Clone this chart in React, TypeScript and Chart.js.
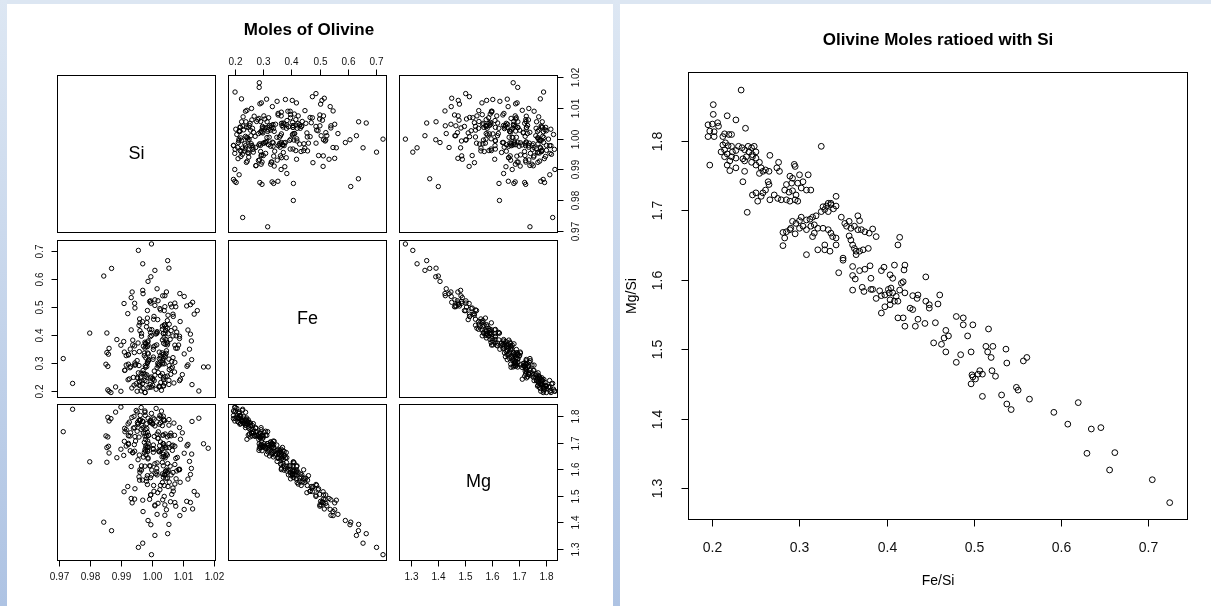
import React, { useEffect, useRef } from "react";
import { Chart, registerables } from "chart.js";

Chart.register(...registerables);

// Ratios (Fe/Si, Mg/Si), one entry per sample
const feSi: number[] = [
  0.233, 0.201, 0.201, 0.217, 0.227, 0.195, 0.200, 0.206, 0.207, 0.197,
  0.202, 0.195, 0.202, 0.212, 0.214, 0.219, 0.222, 0.238, 0.212, 0.215,
  0.218, 0.222, 0.214, 0.210, 0.217, 0.223, 0.227, 0.230, 0.234, 0.237,
  0.241, 0.245, 0.248, 0.242, 0.246, 0.250, 0.246, 0.239, 0.235, 0.227,
  0.222, 0.214, 0.266, 0.325, 0.250, 0.197, 0.220, 0.254, 0.217, 0.220,
  0.227, 0.237, 0.245, 0.250, 0.256, 0.258, 0.254, 0.261, 0.265, 0.237,
  0.235, 0.276, 0.274, 0.277, 0.294, 0.295, 0.289, 0.292, 0.300, 0.310,
  0.304, 0.298, 0.291, 0.285, 0.283, 0.288, 0.292, 0.296, 0.302, 0.308,
  0.313, 0.264, 0.265, 0.261, 0.258, 0.250, 0.246, 0.256, 0.271, 0.275,
  0.279, 0.285, 0.289, 0.295, 0.298, 0.342, 0.333, 0.336, 0.252, 0.266,
  0.336, 0.331, 0.327, 0.329, 0.333, 0.339, 0.342, 0.325, 0.319, 0.315,
  0.312, 0.308, 0.302, 0.300, 0.304, 0.296, 0.292, 0.290, 0.289, 0.285,
  0.281, 0.283, 0.281, 0.295, 0.300, 0.308, 0.313, 0.317, 0.321, 0.327,
  0.333, 0.336, 0.338, 0.342, 0.342, 0.329, 0.321, 0.329, 0.335, 0.308,
  0.350, 0.352, 0.354, 0.357, 0.359, 0.363, 0.367, 0.369, 0.367, 0.371,
  0.375, 0.380, 0.384, 0.388, 0.357, 0.359, 0.361, 0.363, 0.365, 0.365,
  0.369, 0.373, 0.379, 0.415, 0.413, 0.317, 0.315, 0.348, 0.240, 0.350,
  0.345, 0.361, 0.369, 0.375, 0.381, 0.394, 0.397, 0.409, 0.421, 0.420,
  0.404, 0.407, 0.361, 0.364, 0.382, 0.361, 0.372, 0.374, 0.382, 0.384,
  0.392, 0.388, 0.394, 0.398, 0.402, 0.405, 0.403, 0.407, 0.411, 0.415,
  0.421, 0.417, 0.419, 0.409, 0.413, 0.404, 0.404, 0.398, 0.394, 0.430,
  0.435, 0.436, 0.427, 0.430, 0.445, 0.445, 0.449, 0.449, 0.459, 0.461,
  0.413, 0.419, 0.436, 0.480, 0.488, 0.421, 0.433, 0.444, 0.456, 0.468,
  0.471, 0.466, 0.463, 0.454, 0.468, 0.485, 0.480, 0.488, 0.499, 0.493,
  0.497, 0.517, 0.514, 0.516, 0.522, 0.520, 0.537, 0.538, 0.557, 0.561,
  0.498, 0.499, 0.507, 0.505, 0.510, 0.521, 0.525, 0.502, 0.497, 0.510,
  0.532, 0.538, 0.543, 0.549, 0.551, 0.564, 0.592, 0.620, 0.608, 0.635,
  0.646, 0.630, 0.662, 0.656, 0.705, 0.725,
];

const mgSi: number[] = [
  1.873, 1.852, 1.838, 1.836, 1.830, 1.823, 1.824, 1.826, 1.821, 1.814,
  1.813, 1.806, 1.806, 1.806, 1.810, 1.809, 1.809, 1.818, 1.794, 1.797,
  1.793, 1.792, 1.787, 1.784, 1.781, 1.784, 1.786, 1.792, 1.790, 1.787,
  1.792, 1.790, 1.792, 1.784, 1.780, 1.784, 1.777, 1.777, 1.774, 1.775,
  1.777, 1.777, 1.779, 1.792, 1.775, 1.765, 1.771, 1.769, 1.765, 1.757,
  1.761, 1.771, 1.769, 1.765, 1.761, 1.756, 1.753, 1.758, 1.756, 1.756,
  1.741, 1.769, 1.761, 1.756, 1.766, 1.763, 1.749, 1.746, 1.751, 1.751,
  1.741, 1.739, 1.739, 1.737, 1.729, 1.726, 1.728, 1.722, 1.732, 1.729,
  1.729, 1.741, 1.737, 1.729, 1.725, 1.725, 1.722, 1.720, 1.722, 1.717,
  1.715, 1.715, 1.713, 1.715, 1.713, 1.720, 1.710, 1.710, 1.713, 1.715,
  1.708, 1.706, 1.705, 1.701, 1.698, 1.702, 1.706, 1.698, 1.692, 1.690,
  1.687, 1.686, 1.690, 1.685, 1.677, 1.681, 1.684, 1.674, 1.672, 1.669,
  1.668, 1.660, 1.649, 1.666, 1.674, 1.672, 1.677, 1.679, 1.674, 1.674,
  1.672, 1.667, 1.662, 1.660, 1.650, 1.650, 1.643, 1.643, 1.641, 1.636,
  1.631, 1.681, 1.677, 1.684, 1.674, 1.677, 1.692, 1.685, 1.672, 1.672,
  1.669, 1.667, 1.673, 1.662, 1.663, 1.657, 1.650, 1.645, 1.641, 1.636,
  1.641, 1.643, 1.645, 1.661, 1.650, 1.667, 1.662, 1.690, 1.697, 1.628,
  1.610, 1.619, 1.613, 1.615, 1.620, 1.613, 1.618, 1.621, 1.621, 1.614,
  1.607, 1.602, 1.606, 1.601, 1.602, 1.585, 1.589, 1.583, 1.586, 1.586,
  1.584, 1.573, 1.577, 1.578, 1.586, 1.588, 1.581, 1.581, 1.576, 1.585,
  1.581, 1.595, 1.597, 1.569, 1.569, 1.571, 1.564, 1.561, 1.552, 1.577,
  1.573, 1.578, 1.559, 1.557, 1.604, 1.569, 1.564, 1.559, 1.565, 1.578,
  1.545, 1.545, 1.543, 1.547, 1.545, 1.533, 1.533, 1.537, 1.538, 1.527,
  1.519, 1.516, 1.507, 1.509, 1.496, 1.492, 1.481, 1.535, 1.535, 1.519,
  1.496, 1.529, 1.504, 1.496, 1.504, 1.488, 1.500, 1.480, 1.483, 1.488,
  1.463, 1.460, 1.469, 1.464, 1.464, 1.469, 1.461, 1.457, 1.450, 1.432,
  1.434, 1.421, 1.413, 1.445, 1.441, 1.428, 1.409, 1.423, 1.392, 1.385,
  1.387, 1.350, 1.351, 1.326, 1.312, 1.279,
];

// Moles of Si per sample (estimated from the Si panels of the matrix)
const si: number[] = [
  0.9745, 0.9900, 0.9965, 0.9883, 0.9949, 0.9977, 0.9952, 1.0013, 0.9858, 0.9868,
  1.0030, 0.9978, 0.9862, 0.9935, 0.9998, 0.9962, 0.9942, 0.9977, 0.9987, 1.0025,
  1.0036, 0.9958, 1.0022, 0.9971, 1.0037, 0.9994, 0.9969, 1.0028, 0.9960, 1.0007,
  1.0003, 0.9927, 0.9963, 0.9923, 0.9995, 0.9953, 0.9954, 1.0037, 0.9983, 1.0040,
  1.0054, 0.9993, 0.9956, 0.9715, 0.9997, 1.0150, 1.0002, 1.0027, 1.0023, 1.0128,
  1.0070, 0.9967, 1.0002, 0.9940, 1.0009, 0.9983, 0.9978, 1.0033, 0.9965, 1.0054,
  1.0088, 0.9912, 0.9971, 0.9913, 0.9944, 0.9917, 0.9931, 0.9858, 0.9852, 0.9952,
  0.9985, 0.9924, 0.9978, 0.9929, 1.0016, 0.9983, 0.9958, 1.0034, 0.9945, 0.9988,
  0.9989, 0.9972, 1.0020, 0.9977, 1.0060, 1.0042, 1.0036, 1.0097, 1.0007, 1.0055,
  1.0061, 0.9979, 1.0020, 0.9947, 1.0018, 0.9911, 0.9924, 0.9860, 1.0049, 1.0072,
  0.9986, 0.9924, 0.9975, 0.9917, 0.9988, 0.9943, 0.9855, 1.0027, 0.9980, 1.0036,
  1.0054, 0.9988, 1.0035, 0.9985, 1.0063, 1.0039, 1.0024, 1.0115, 1.0055, 1.0112,
  1.0165, 1.0065, 1.0180, 1.0021, 1.0073, 1.0034, 1.0003, 1.0067, 1.0004, 1.0042,
  1.0045, 0.9975, 1.0023, 0.9959, 1.0046, 1.0036, 1.0042, 1.0103, 1.0032, 1.0127,
  1.0081, 0.9930, 0.9977, 0.9862, 0.9985, 0.9944, 0.9900, 0.9980, 0.9938, 0.9979,
  0.9986, 0.9909, 0.9938, 0.9887, 1.0004, 0.9980, 0.9972, 1.0049, 0.9987, 1.0042,
  1.0037, 0.9955, 0.9987, 0.9800, 0.9855, 1.0028, 1.0023, 1.0004, 1.0091, 1.0076,
  1.0120, 1.0009, 1.0050, 0.9977, 1.0033, 0.9994, 0.9966, 1.0016, 0.9933, 0.9992,
  1.0036, 0.9966, 1.0073, 1.0015, 1.0058, 1.0085, 1.0047, 1.0126, 1.0044, 1.0088,
  1.0088, 1.0038, 1.0067, 0.9998, 1.0052, 1.0015, 1.0012, 1.0079, 1.0016, 1.0043,
  1.0049, 0.9961, 0.9999, 0.9995, 1.0061, 1.0042, 1.0036, 1.0123, 1.0077, 1.0033,
  1.0040, 0.9958, 1.0044, 0.9982, 0.9961, 0.9983, 0.9969, 1.0049, 0.9960, 0.9985,
  1.0115, 1.0033, 1.0055, 0.9922, 0.9985, 1.0073, 1.0039, 1.0090, 1.0005, 1.0051,
  1.0067, 1.0006, 1.0068, 1.0018, 1.0135, 1.0039, 1.0145, 1.0027, 0.9945, 1.0025,
  1.0063, 0.9910, 0.9996, 0.9944, 0.9995, 0.9992, 0.9933, 1.0034, 0.9936, 0.9970,
  1.0111, 1.0041, 1.0059, 1.0009, 1.0073, 1.0019, 1.0009, 1.0123, 1.0076, 1.0130,
  1.0103, 1.0041, 1.0089, 0.9971, 1.0046, 1.0016, 0.9987, 0.9845, 0.9996, 1.0054,
  0.9870, 1.0009, 1.0050, 0.9970, 0.9956, 0.9998,
];

const siTicks = [0.97, 0.98, 0.99, 1.0, 1.01, 1.02];
const feTicks = [0.2, 0.3, 0.4, 0.5, 0.6, 0.7];
const mgTicks = [1.3, 1.4, 1.5, 1.6, 1.7, 1.8];
const ratioXTicks = [0.2, 0.3, 0.4, 0.5, 0.6, 0.7];
const ratioYTicks = [1.3, 1.4, 1.5, 1.6, 1.7, 1.8];

const siLabels = ["0.97", "0.98", "0.99", "1.00", "1.01", "1.02"];
const feLabels = ["0.2", "0.3", "0.4", "0.5", "0.6", "0.7"];
const mgLabels = ["1.3", "1.4", "1.5", "1.6", "1.7", "1.8"];

// Table for the matrix, built from the arrays above
const fe = feSi.map((v, i) => v * si[i]);
const mg = mgSi.map((v, i) => v * si[i]);

const FONT = '"Liberation Sans", Arial, Helvetica, sans-serif';

type Axis = {
  side: "top" | "bottom" | "left" | "right";
  ticks: number[];
  labels: string[];
  font: string;
  tickLen: number;
  gap: number;
};
type Txt = { text: string; x: number; y: number; font: string; rot?: boolean };
type PanelCfg = {
  box: number[];
  xr: number[];
  yr: number[];
  xs?: number[];
  ys?: number[];
  radius: number;
  axes: Axis[];
  texts: Txt[];
  center?: { text: string; font: string };
};

const M = 90;

function makePlugin(cfg: PanelCfg, offX: number, offY: number) {
  return {
    id: "rStyle",
    afterDraw(chart: any) {
      const { ctx, chartArea: a, scales } = chart;
      const L = Math.round(a.left);
      const T = Math.round(a.top);
      const R = Math.round(a.right);
      const B = Math.round(a.bottom);
      ctx.save();
      ctx.lineWidth = 1;
      ctx.strokeStyle = "#000";
      ctx.strokeRect(L + 0.5, T + 0.5, R - L - 1, B - T - 1);
      ctx.fillStyle = "#111";
      ctx.textAlign = "center";
      ctx.textBaseline = "middle";
      cfg.axes.forEach((ax) => {
        const horiz = ax.side === "top" || ax.side === "bottom";
        const sc = horiz ? scales.x : scales.y;
        const ps = ax.ticks.map((v) => Math.round(sc.getPixelForValue(v)) + 0.5);
        ctx.font = ax.font;
        ctx.beginPath();
        if (horiz) {
          const y0 = ax.side === "bottom" ? B - 0.5 : T + 0.5;
          const d = ax.side === "bottom" ? 1 : -1;
          ctx.moveTo(ps[0], y0);
          ctx.lineTo(ps[ps.length - 1], y0);
          ps.forEach((p) => {
            ctx.moveTo(p, y0);
            ctx.lineTo(p, y0 + d * ax.tickLen);
          });
          ctx.stroke();
          ps.forEach((p, k) => ctx.fillText(ax.labels[k], p, y0 + d * ax.gap));
        } else {
          const x0 = ax.side === "left" ? L + 0.5 : R - 0.5;
          const d = ax.side === "left" ? -1 : 1;
          ctx.moveTo(x0, ps[0]);
          ctx.lineTo(x0, ps[ps.length - 1]);
          ps.forEach((p) => {
            ctx.moveTo(x0, p);
            ctx.lineTo(x0 + d * ax.tickLen, p);
          });
          ctx.stroke();
          ps.forEach((p, k) => {
            ctx.save();
            ctx.translate(x0 + d * ax.gap, p);
            ctx.rotate(-Math.PI / 2);
            ctx.fillText(ax.labels[k], 0, 0);
            ctx.restore();
          });
        }
      });
      ctx.fillStyle = "#000";
      if (cfg.center) {
        ctx.font = cfg.center.font;
        ctx.fillText(cfg.center.text, (L + R) / 2, (T + B) / 2);
      }
      cfg.texts.forEach((t) => {
        ctx.font = t.font;
        const x = t.x - offX;
        const y = t.y - offY;
        if (t.rot) {
          ctx.save();
          ctx.translate(x, y);
          ctx.rotate(-Math.PI / 2);
          ctx.fillText(t.text, 0, 0);
          ctx.restore();
        } else {
          ctx.fillText(t.text, x, y);
        }
      });
      ctx.restore();
    },
  };
}

function RPanel({ cfg }: { cfg: PanelCfg }) {
  const ref = useRef<HTMLCanvasElement | null>(null);
  const [l, t, r, b] = cfg.box;
  const W = r - l + 2 * M;
  const H = b - t + 2 * M;
  useEffect(() => {
    const xs = cfg.xs || [];
    const ys = cfg.ys || [];
    const pts = xs.map((x, i) => ({ x, y: ys[i] }));
    const chart = new Chart(ref.current as HTMLCanvasElement, {
      type: "scatter",
      data: {
        datasets: [
          {
            data: pts,
            pointRadius: cfg.radius,
            pointHoverRadius: cfg.radius,
            pointBorderWidth: 1,
            pointBorderColor: "#000",
            pointBackgroundColor: "rgba(0,0,0,0)",
          },
        ],
      },
      options: {
        responsive: false,
        animation: false,
        events: [],
        layout: { padding: M },
        plugins: { legend: { display: false }, tooltip: { enabled: false } },
        scales: {
          x: { type: "linear", display: false, min: cfg.xr[0], max: cfg.xr[1] },
          y: { type: "linear", display: false, min: cfg.yr[0], max: cfg.yr[1] },
        },
      },
      plugins: [makePlugin(cfg, l - M, t - M)],
    } as any);
    return () => chart.destroy();
  }, []);
  return (
    <canvas
      ref={ref}
      width={W}
      height={H}
      style={{ position: "absolute", left: l - M, top: t - M, width: W, height: H }}
    />
  );
}

const COLS = [
  [57, 216],
  [228, 387],
  [399, 558],
];
const ROWS = [
  [75, 233],
  [240, 398],
  [404, 561],
];

const VARS = [
  { name: "Si", vals: si, range: [0.9695, 1.0205], ticks: siTicks, labels: siLabels },
  { name: "Fe", vals: fe, range: [0.175, 0.739], ticks: feTicks, labels: feLabels },
  { name: "Mg", vals: mg, range: [1.255, 1.845], ticks: mgTicks, labels: mgLabels },
];

const SMALL = `10px ${FONT}`;

function matrixPanels(): PanelCfg[] {
  const out: PanelCfg[] = [];
  for (let i = 0; i < 3; i++) {
    for (let j = 0; j < 3; j++) {
      const xv = VARS[j];
      const yv = VARS[i];
      const axes: Axis[] = [];
      if (i === 0 && j === 1)
        axes.push({ side: "top", ticks: xv.ticks, labels: xv.labels, font: SMALL, tickLen: 6, gap: 13 });
      if (i === 2 && j % 2 === 0)
        axes.push({ side: "bottom", ticks: xv.ticks, labels: xv.labels, font: SMALL, tickLen: 6, gap: 17 });
      if (j === 0 && i === 1)
        axes.push({ side: "left", ticks: yv.ticks, labels: yv.labels, font: SMALL, tickLen: 6, gap: 17 });
      if (j === 2 && i % 2 === 0)
        axes.push({ side: "right", ticks: yv.ticks, labels: yv.labels, font: SMALL, tickLen: 6, gap: 19 });
      const texts: Txt[] = [];
      if (i === 0 && j === 1)
        texts.push({ text: "Moles of Olivine", x: 309, y: 30, font: `bold 17px ${FONT}` });
      out.push({
        box: [COLS[j][0], ROWS[i][0], COLS[j][1], ROWS[i][1]],
        xr: xv.range,
        yr: yv.range,
        xs: i === j ? [] : xv.vals,
        ys: i === j ? [] : yv.vals,
        radius: 2.2,
        axes,
        texts,
        center: i === j ? { text: xv.name, font: `18px ${FONT}` } : undefined,
      });
    }
  }
  return out;
}

const ratioCfg: PanelCfg = {
  box: [688, 72, 1188, 520],
  xr: [0.172, 0.746],
  yr: [1.254, 1.899],
  xs: feSi,
  ys: mgSi,
  radius: 2.9,
  axes: [
    { side: "bottom", ticks: ratioXTicks, labels: feLabels, font: `14px ${FONT}`, tickLen: 7, gap: 29 },
    { side: "left", ticks: ratioYTicks, labels: mgLabels, font: `14px ${FONT}`, tickLen: 7, gap: 30 },
  ],
  texts: [
    { text: "Olivine Moles ratioed with Si", x: 938, y: 40, font: `bold 17px ${FONT}` },
    { text: "Fe/Si", x: 938, y: 581, font: `14px ${FONT}` },
    { text: "Mg/Si", x: 632, y: 296, font: `14px ${FONT}`, rot: true },
  ],
};

export default function App() {
  const panels = matrixPanels();
  const strip = "linear-gradient(to bottom, #dde7f3, #aec3e3)";
  return (
    <div
      style={{
        position: "fixed",
        left: 0,
        top: 0,
        width: 1211,
        height: 606,
        background: "#fff",
        overflow: "hidden",
      }}
    >
      <div style={{ position: "absolute", left: 0, top: 0, width: 1211, height: 4, background: "#dce6f2" }} />
      <div style={{ position: "absolute", left: 0, top: 0, width: 7, height: 606, background: strip }} />
      <div style={{ position: "absolute", left: 613, top: 0, width: 7, height: 606, background: strip }} />
      {panels.map((p, k) => (
        <RPanel key={k} cfg={p} />
      ))}
      <RPanel cfg={ratioCfg} />
    </div>
  );
}
